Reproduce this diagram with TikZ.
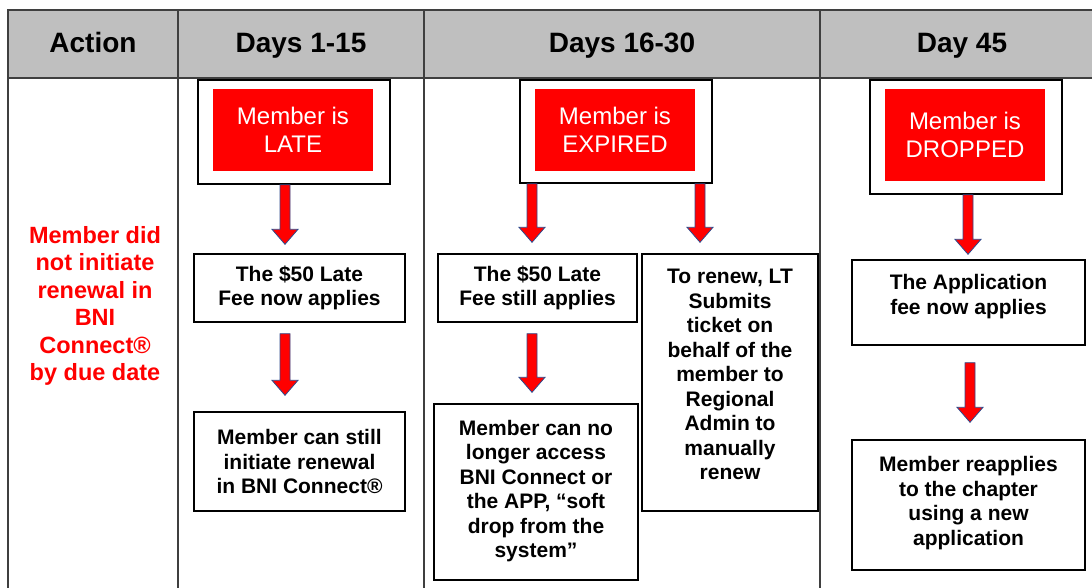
\documentclass[tikz,border=0pt]{standalone}
\usepackage{fontspec}
\setmainfont{Liberation Sans}
\usepackage{xcolor}
\usepackage{tikz}
\usetikzlibrary{positioning}
\usetikzlibrary{calc}
\definecolor{hdrgray}{HTML}{BFBFBF}
\definecolor{rulegray}{HTML}{3F3F3F}
\definecolor{arrblue}{HTML}{2E4A8C}
\tikzstyle{header}=[anchor=base,font=\fontsize{28}{32}\selectfont\bfseries]
\tikzstyle{outerbox}=[rectangle,draw=black,line width=1.6pt,fill=white,minimum width=192pt,inner sep=0pt]
\tikzstyle{statusbox}=[rectangle,fill=red,text=white,minimum width=160pt,align=center,inner sep=0pt,font=\fontsize{24}{28}\selectfont]
\tikzstyle{infobox}=[rectangle,draw=black,line width=1.4pt,align=center,inner sep=0pt,font=\fontsize{21}{24.5}\selectfont\bfseries]
\tikzstyle{blkarrow}=[draw=arrblue,line width=0.8pt,fill=red,line join=miter]
\tikzset{rule/.style={draw=rulegray,line width=1.8pt}}
\newcommand{\redarrow}[2]{%
  \path[blkarrow] let \p1=#1, \p2=#2 in
    (\x1-5pt,\y1) -- (\x1+5pt,\y1) -- (\x1+5pt,\y2+15pt) -- (\x1+13pt,\y2+15pt)
    -- (\x1,\y2) -- (\x1-13pt,\y2+15pt) -- (\x1-5pt,\y2+15pt) -- cycle;}
% lifts the text of a box a little
\newcommand{\lift}[1]{\rule[-#1]{0pt}{0pt}}

\begin{document}
\begin{tikzpicture}[x=1pt,y=-1pt]

  \useasboundingbox (0,0) rectangle (1092,588);
  \clip (0,0) rectangle (1092,588);

  % table
  \fill[hdrgray] (8,10) rectangle (1100,78);
  \draw[rule] (1100,10) -- (8,10) -- (8,600);
  \draw[rule] (8,78) -- (1100,78);
  \foreach \x in {178,424,820}
         \draw[rule] (\x,10) -- (\x,600);

  \foreach \x/\name/\label in {93/hact/Action, 301/hdone/Days 1-15, 622/hdtwo/Days 16-30, 962/hdthree/Day 45}
          \node[header] (\name) at (\x,53) {\label};

  \node[font=\fontsize{23.5}{27.5}\selectfont\bfseries, text=red, align=center] (action) at (95,306)
        {Member did\\not initiate\\renewal in\\BNI\\Connect®\\by due date};

  % status boxes
  \foreach \x/\y/\h/\name in {294/132/104/lateo, 616/131.5/103/expo, 966/137/114/dropo}
          \node[outerbox,minimum height=\h pt] (\name) at (\x,\y) {};
  \foreach \x/\y/\h/\name/\label in {293/130/82/late/LATE, 615/130/82/expired/EXPIRED, 965/135/92/dropped/DROPPED}
          \node[statusbox,minimum height=\h pt] (\name) at (\x,\y) {Member is\\\label};

  % info boxes
  \node[infobox,minimum width=211pt,minimum height=68pt] (feeone) at (299.5,288) {The \$50 Late\\Fee now applies};
  \node[infobox,minimum width=211pt,minimum height=99pt] (connone) at (299.5,461.5) {Member can still\\initiate renewal\\in BNI Connect®};
  \node[infobox,minimum width=199pt,minimum height=68pt] (feetwo) at (537.5,288) {The \$50 Late\\Fee still applies};
  \node[infobox,minimum width=176pt,minimum height=257pt] (renew) at (730,382.5)
        {To renew, LT\\Submits\\ticket on\\behalf of the\\member to\\Regional\\Admin to\\manually\\renew\lift{16pt}};
  \node[infobox,minimum width=204pt,minimum height=176pt] (nolong) at (536,492)
        {Member can no\\longer access\\BNI Connect or\\the APP, “soft\\drop from the\\system”\lift{6pt}};
  \node[infobox,minimum width=233pt,minimum height=85pt] (appfee) at (968.5,302.5) {The Application\\fee now applies\lift{16pt}};
  \node[infobox,minimum width=233pt,minimum height=130pt] (reapp) at (968.5,505)
        {Member reapplies\\to the chapter\\using a new\\application\lift{8pt}};

  % arrows
  \redarrow{([xshift=-9pt]lateo.south)}{([yshift=9pt]feeone.north)}
  \redarrow{([xshift=-14.5pt,yshift=-11pt]feeone.south)}{([yshift=16pt]connone.north)}
  \redarrow{([xshift=-84pt]expo.south)}{([yshift=11pt]feetwo.north)}
  \redarrow{([xshift=84pt]expo.south)}{([yshift=11pt]renew.north)}
  \redarrow{([xshift=-5.5pt,yshift=-11pt]feetwo.south)}{([yshift=11pt]nolong.north)}
  \redarrow{([xshift=2pt]dropo.south)}{([yshift=5pt]appfee.north)}
  \redarrow{([xshift=1.5pt,yshift=-17pt]appfee.south)}{([yshift=17pt]reapp.north)}

\end{tikzpicture}
\end{document}
